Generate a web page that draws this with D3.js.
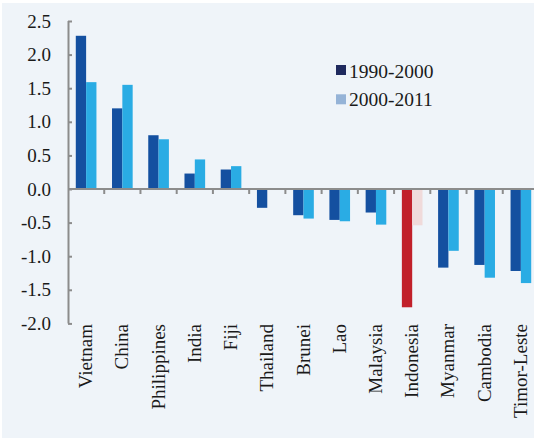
<!DOCTYPE html>
<html><head><meta charset="utf-8">
<script src="https://cdn.jsdelivr.net/npm/d3@7"></script>
<style>html,body{margin:0;padding:0;background:#fff;}svg{display:block;}</style>
</head><body>
<svg id="chart" width="534" height="438"></svg>
<script>
const categories = ["Vietnam","China","Philippines","India","Fiji","Thailand","Brunei","Lao","Malaysia","Indonesia","Myanmar","Cambodia","Timor-Leste"];
const series1990 = [2.28, 1.20, 0.80, 0.23, 0.29, -0.28, -0.39, -0.46, -0.35, -1.76, -1.17, -1.13, -1.22];
const series2000 = [1.59, 1.55, 0.74, 0.44, 0.34, 0, -0.44, -0.48, -0.53, -0.54, -0.92, -1.32, -1.40];
const yTicks = [2.5, 2.0, 1.5, 1.0, 0.5, 0.0, -0.5, -1.0, -1.5, -2.0];
const legendLabels = ["1990-2000", "2000-2011"];

const svg = d3.select("#chart");
const font = "'Liberation Serif', 'DejaVu Serif', serif";
svg.append("rect").attr("x",2).attr("y",3).attr("width",532).attr("height",435).attr("fill","#eff4f9");

const x = d3.scaleBand().domain(categories).range([68, 539]).paddingInner(0.43).paddingOuter(0.215);
const y = d3.scaleLinear().domain([-2, 2.5]).range([323.4, 21]);
const x1 = d3.scaleBand().domain([0,1]).range([0, x.bandwidth()]);

const c1 = "#1450a0", c2 = "#2aace4";
const color1 = (d,i) => categories[i] === "Indonesia" ? "#c1202a" : c1;
const color2 = (d,i) => categories[i] === "Indonesia" ? "#f0dada" : c2;

svg.append("g").selectAll("rect").data(series1990).join("rect")
  .attr("x",(d,i)=>x(categories[i])+x1(0)).attr("width",x1.bandwidth())
  .attr("y",d=>y(Math.max(0,d))).attr("height",d=>Math.abs(y(d)-y(0)))
  .attr("fill",color1);
svg.append("g").selectAll("rect").data(series2000).join("rect")
  .attr("x",(d,i)=>x(categories[i])+x1(1)).attr("width",x1.bandwidth())
  .attr("y",d=>y(Math.max(0,d))).attr("height",d=>Math.abs(y(d)-y(0)))
  .attr("fill",color2);

const axisColor = "#8c8c8c";
// y axis
const yAxis = svg.append("g").attr("transform","translate(68,0)")
  .call(d3.axisRight(y).tickValues(yTicks).tickSize(4).tickFormat(""));
yAxis.select(".domain").attr("stroke",axisColor).attr("stroke-width",2).attr("d",`M0.5,${y(2.5)}V${y(-2)}`);
yAxis.selectAll(".tick line").attr("stroke",axisColor).attr("stroke-width",2);
svg.append("g").selectAll("text").data(yTicks).join("text")
  .attr("x",51).attr("y",d=>y(d)).attr("dy","0.35em").attr("text-anchor","end")
  .attr("font-family",font).attr("font-size",19).attr("fill","#1a1a1a")
  .text(d=>d3.format(".1f")(d).replace("−","-"));

// x axis at zero
const step = x.step();
const tickPos = d3.range(1, categories.length).map(i => 68 + i*step);
svg.append("line").attr("x1",68).attr("x2",539).attr("y1",y(0)).attr("y2",y(0))
  .attr("stroke",axisColor).attr("stroke-width",2);
svg.append("g").selectAll("line").data(tickPos).join("line")
  .attr("x1",d=>d).attr("x2",d=>d).attr("y1",y(0)).attr("y2",y(0)+5)
  .attr("stroke",axisColor).attr("stroke-width",2);

// category labels
svg.append("g").selectAll("text").data(categories).join("text")
  .attr("transform",d=>`translate(${x(d)+x.bandwidth()/2+6},324) rotate(-90)`)
  .attr("text-anchor","end").attr("font-family",font).attr("font-size",19).attr("fill","#1a1a1a")
  .text(d=>d);

// legend
const leg = svg.append("g");
const legColors = ["#1f2a5e","#95b3d7"];
legendLabels.forEach((t,i)=>{
  leg.append("rect").attr("x",336).attr("y",65+i*29.3).attr("width",10).attr("height",10).attr("fill",legColors[i]);
  leg.append("text").attr("x",349).attr("y",77.5+i*28.5).attr("font-family",font).attr("font-size",19.5).attr("fill","#1a1a1a").text(t);
});
</script>
</body></html>
